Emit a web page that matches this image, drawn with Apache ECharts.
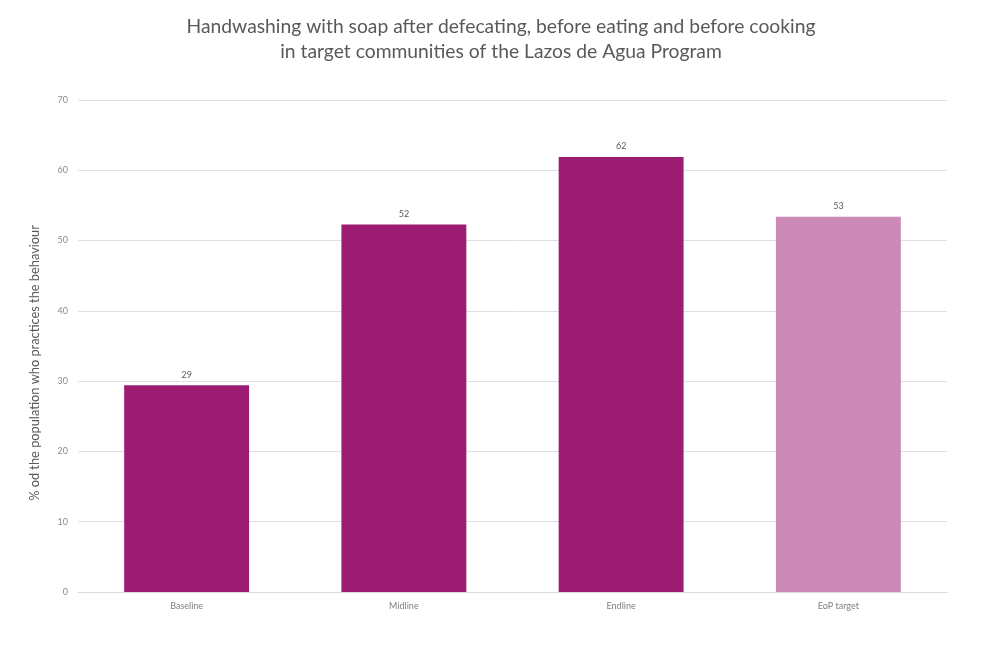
<!DOCTYPE html>
<html><head><meta charset="utf-8">
<script src="https://cdn.jsdelivr.net/npm/echarts@6/dist/echarts.min.js"></script>
<style>html,body{margin:0;padding:0;background:#fff}#c{width:986px;height:648px}</style>
</head><body><div id="c"></div>
<script>
const categories = ["Baseline", "Midline", "Endline", "EoP target"];
const values = [29.4, 52.3, 61.9, 53.4];
const barColors = ["#9C1C74", "#9C1C74", "#9C1C74", "#CB89B6"];
const yTicks = [0, 10, 20, 30, 40, 50, 60, 70];

const chart = echarts.init(document.getElementById('c'));
chart.setOption({
  animation: false,
  backgroundColor: '#fff',
  title: {
    text: 'Handwashing with soap after defecating, before eating and before cooking\nin target communities of the Lazos de Agua Program',
    left: 496, textAlign: 'center', top: 9,
    textStyle: { fontFamily: 'Lato', fontSize: 19.3, fontWeight: 'normal', color: '#595959', lineHeight: 25 }
  },
  grid: { left: 78, right: 39, top: 100, bottom: 56 },
  xAxis: {
    type: 'category', data: categories,
    axisLine: { lineStyle: { color: '#d9d9d9', width: 1 } },
    axisTick: { show: false },
    axisLabel: { color: '#7f7f7f', fontSize: 9, fontFamily: 'Lato', margin: 10 }
  },
  yAxis: {
    type: 'value', min: yTicks[0], max: yTicks[yTicks.length - 1], interval: 10,
    name: '% od the population who practices the behaviour',
    nameLocation: 'middle', nameGap: 37,
    nameTextStyle: { color: '#595959', fontSize: 12.8, fontFamily: 'Lato', padding: [0, 34, 0, 0] },
    axisLine: { show: false }, axisTick: { show: false },
    axisLabel: { color: '#8c8c8c', fontSize: 9, fontFamily: 'Lato', margin: 10 },
    splitLine: { lineStyle: { color: '#e0e0e0', width: 1 } }
  },
  series: [{
    type: 'bar', barWidth: '57.5%',
    data: values.map((v, i) => ({ value: v, itemStyle: { color: barColors[i] } })),
    label: {
      show: true, position: 'top', distance: 6,
      formatter: p => Math.round(p.value),
      color: '#595959', fontSize: 9, fontFamily: 'Lato'
    }
  }]
});
</script></body></html>
